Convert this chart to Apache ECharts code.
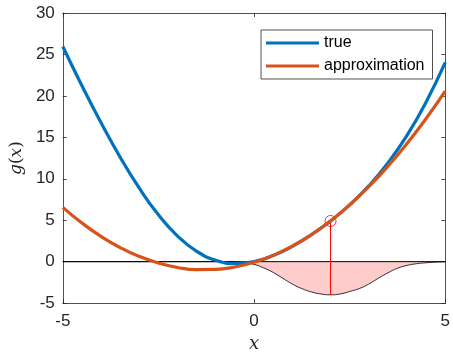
<!DOCTYPE html>
<html>
<head>
<meta charset="utf-8">
<script src="https://cdn.jsdelivr.net/npm/echarts@6/dist/echarts.min.js"></script>
<style>
  html, body { margin: 0; padding: 0; background: #fff; }
  #chart { width: 453px; height: 358px; }
</style>
</head>
<body>
<div id="chart"></div>
<script>
// values
var xCurve = [-5, -4.5, -4, -3.5, -3, -2.5, -2, -1.5, -1, -0.5, 0, 0.5, 1, 1.5, 2, 2.5, 3, 3.5, 4, 4.5, 5];
var trueVals = [25.96, 21.23, 16.76, 12.60, 8.86, 5.65, 3.09, 1.25, 0.16, -0.23, 0, 0.73, 1.84, 3.25, 4.91, 6.85, 9.14, 11.90, 15.24, 19.27, 24.04];
var approxVals = [6.55, 4.66, 3.04, 1.70, 0.63, -0.17, -0.70, -0.95, -0.93, -0.64, -0.08, 0.76, 1.87, 3.25, 4.91, 6.84, 9.04, 11.51, 14.26, 17.28, 20.57];

var xWeight = [-5, -1, -0.75, -0.5, -0.25, 0, 0.25, 0.5, 0.75, 1, 1.25, 1.5, 1.75, 2, 2.25, 2.5, 2.75, 3, 3.25, 3.5, 3.75, 4, 4.25, 4.5, 4.75, 5];
var weightVals = [0, 0, -0.01, -0.05, -0.15, -0.33, -0.75, -1.3, -2.0, -2.7, -3.25, -3.65, -3.9, -4.0, -3.9, -3.6, -3.25, -2.7, -2.0, -1.35, -0.8, -0.45, -0.25, -0.13, -0.06, -0.02];

var x0 = 2, y0 = 4.91, yLow = -4.0;

function pairs(xs, ys) {
  return xs.map(function (x, i) { return [x, ys[i]]; });
}

var axisCol = '#262626';
var font = 'Liberation Sans, Arial, Helvetica, sans-serif';
// plain line as legend icon (corner points keep the 53x16 box)
var lineIcon = 'path://M0,0L0,0M0,6.5L53,6.5L53,9.5L0,9.5ZM53,16L53,16';

var chart = echarts.init(document.getElementById('chart'));
chart.setOption({
  animation: false,
  backgroundColor: '#fff',
  grid: { left: 61, right: 4, top: 13, bottom: 53 },
  legend: {
    data: [{ name: 'true', icon: lineIcon }, { name: 'approximation', icon: lineIcon }],
    orient: 'vertical',
    left: 261, top: 30,
    padding: [5, 8, 5, 5],
    itemWidth: 53, itemHeight: 16, itemGap: 7,
    backgroundColor: '#fff',
    borderColor: axisCol, borderWidth: 0.8, borderRadius: 0,
    textStyle: { fontFamily: font, fontSize: 16, color: '#000' }
  },
  xAxis: [{
    type: 'value', min: -5, max: 5, interval: 5,
    name: 'x', nameLocation: 'middle', nameGap: 31,
    nameTextStyle: { fontFamily: 'DejaVu Serif, serif', fontStyle: 'italic', fontSize: 18, color: axisCol },
    axisLine: { show: true, onZero: false, lineStyle: { color: axisCol, width: 0.8 } },
    axisTick: { show: true, inside: true, length: 4, lineStyle: { color: axisCol, width: 0.8 } },
    axisLabel: { fontFamily: font, fontSize: 17, color: axisCol, margin: 10 },
    splitLine: { show: false }
  }, {
    type: 'value', min: -5, max: 5, interval: 5, position: 'top',
    axisLine: { show: true, onZero: false, lineStyle: { color: axisCol, width: 0.8 } },
    axisTick: { show: true, inside: true, length: 4, lineStyle: { color: axisCol, width: 0.8 } },
    axisLabel: { show: false },
    splitLine: { show: false }
  }],
  yAxis: [{
    type: 'value', min: -5, max: 30, interval: 5,
    name: '{i|g}{n|(}{i|x}{n|)}', nameLocation: 'middle', nameGap: 35, nameRotate: 90,
    nameTextStyle: {
      rich: {
        i: { fontFamily: 'DejaVu Serif, serif', fontStyle: 'italic', fontSize: 17, color: axisCol },
        n: { fontFamily: 'DejaVu Serif, serif', fontSize: 17, color: axisCol }
      }
    },
    axisLine: { show: true, onZero: false, lineStyle: { color: axisCol, width: 0.8 } },
    axisTick: { show: true, inside: true, length: 4, lineStyle: { color: axisCol, width: 0.8 } },
    axisLabel: { fontFamily: font, fontSize: 17, color: axisCol, margin: 8 },
    splitLine: { show: false }
  }, {
    type: 'value', min: -5, max: 30, interval: 5, position: 'right',
    axisLine: { show: true, onZero: false, lineStyle: { color: axisCol, width: 0.8 } },
    axisTick: { show: true, inside: true, length: 4, lineStyle: { color: axisCol, width: 0.8 } },
    axisLabel: { show: false },
    splitLine: { show: false }
  }],
  series: [
    {
      name: 'weight', type: 'line', smooth: true, symbol: 'none',
      data: pairs(xWeight, weightVals),
      lineStyle: { color: '#000', width: 0.8 },
      areaStyle: { color: '#ffcccc', opacity: 1 }
    },
    {
      name: 'zero', type: 'line', symbol: 'none',
      data: [[-5, 0], [5, 0]],
      lineStyle: { color: '#000', width: 1 }
    },
    {
      name: 'stem', type: 'line', symbol: 'none',
      data: [[x0, yLow], [x0, y0]],
      lineStyle: { color: '#ff0000', width: 1 }
    },
    {
      name: 'true', type: 'line', smooth: true, symbol: 'none',
      data: pairs(xCurve, trueVals),
      color: '#0072BD',
      lineStyle: { color: '#0072BD', width: 3.2 }
    },
    {
      name: 'approximation', type: 'line', smooth: true, symbol: 'none',
      data: pairs(xCurve, approxVals),
      color: '#D95319',
      lineStyle: { color: '#D95319', width: 3.2 }
    },
    {
      name: 'point', type: 'scatter', symbol: 'circle', symbolSize: 11,
      data: [[x0, y0]],
      itemStyle: { color: 'rgba(0,0,0,0)', borderColor: '#ff0000', borderWidth: 1 }
    }
  ]
});
</script>
</body>
</html>
